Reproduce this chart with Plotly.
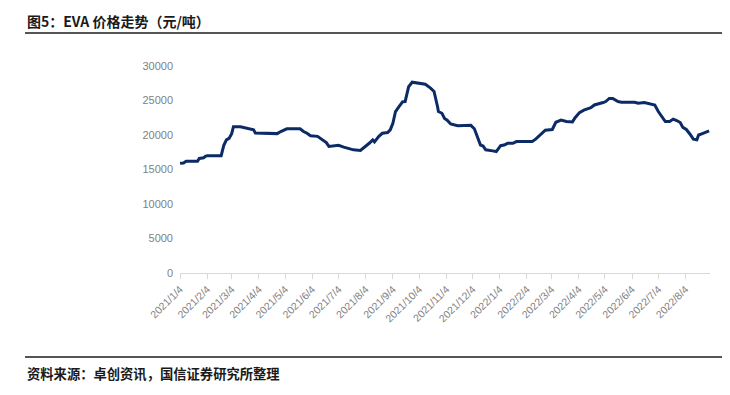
import plotly.graph_objects as go

dates = [
    "2021-01-04", "2021-01-08", "2021-01-11", "2021-01-24", "2021-01-26", "2021-01-31",
    "2021-02-02", "2021-02-04", "2021-02-20", "2021-02-23", "2021-02-26", "2021-03-01",
    "2021-03-04", "2021-03-06", "2021-03-14", "2021-03-20", "2021-03-25", "2021-03-29",
    "2021-03-31", "2021-04-21", "2021-04-25", "2021-04-29", "2021-05-03", "2021-05-06",
    "2021-05-21", "2021-05-25", "2021-05-29", "2021-06-02", "2021-06-10", "2021-06-14",
    "2021-06-20", "2021-06-23", "2021-06-29", "2021-07-04", "2021-07-10", "2021-07-16",
    "2021-07-21", "2021-07-29", "2021-08-04", "2021-08-08", "2021-08-12", "2021-08-14",
    "2021-08-19", "2021-08-23", "2021-08-29", "2021-09-01", "2021-09-04", "2021-09-07",
    "2021-09-11", "2021-09-15", "2021-09-18", "2021-09-22", "2021-09-26", "2021-10-02",
    "2021-10-05", "2021-10-11", "2021-10-17", "2021-10-21", "2021-10-25", "2021-10-26",
    "2021-10-30", "2021-11-02", "2021-11-05", "2021-11-09", "2021-11-17", "2021-12-02",
    "2021-12-06", "2021-12-09", "2021-12-13", "2021-12-16", "2021-12-19", "2021-12-27",
    "2021-12-31", "2022-01-05", "2022-01-09", "2022-01-13", "2022-01-19", "2022-01-23",
    "2022-02-10", "2022-02-14", "2022-02-19", "2022-02-25", "2022-03-05", "2022-03-09",
    "2022-03-15", "2022-03-21", "2022-03-28", "2022-03-31", "2022-04-05", "2022-04-10",
    "2022-04-18", "2022-04-22", "2022-05-02", "2022-05-05", "2022-05-09", "2022-05-13",
    "2022-05-19", "2022-05-23", "2022-06-07", "2022-06-11", "2022-06-18", "2022-06-26",
    "2022-06-30", "2022-07-04", "2022-07-08", "2022-07-12", "2022-07-17", "2022-07-21",
    "2022-07-25", "2022-07-29", "2022-08-01", "2022-08-05", "2022-08-09", "2022-08-13",
    "2022-08-17", "2022-08-19", "2022-08-24", "2022-08-28", "2022-08-31",
]
prices = [
    15900, 15950, 16200, 16200, 16600, 16700,
    16900, 17000, 17000, 18500, 19300, 19500,
    20200, 21200, 21200, 21050, 20900, 20750,
    20300, 20300, 20200, 20500, 20750, 20900,
    20900, 20500, 20250, 19900, 19800, 19400,
    18900, 18350, 18450, 18500, 18250, 18050,
    17850, 17750, 18300, 18800, 19300, 19000,
    19800, 20250, 20350, 20750, 21700, 23400,
    24100, 24800, 24850, 27000, 27650, 27550,
    27450, 27350, 26800, 26300, 24100, 23400,
    23150, 22400, 22150, 21600, 21350, 21400,
    20900, 19750, 18550, 18400, 17850, 17700,
    17600, 18450, 18550, 18800, 18800, 19050,
    19050, 19400, 20000, 20700, 20800, 21850,
    22150, 21950, 21900, 22500, 23250, 23600,
    23950, 24350, 24700, 24850, 25300, 25300,
    24850, 24750, 24750, 24600, 24700, 24500,
    24350, 23400, 22650, 21950, 21950, 22300,
    22100, 21800, 21100, 20800, 20150, 19400,
    19300, 20000, 20250, 20400, 20600,
]

tick_vals = [
    "2021-01-04", "2021-02-04", "2021-03-04", "2021-04-04", "2021-05-04", "2021-06-04",
    "2021-07-04", "2021-08-04", "2021-09-04", "2021-10-04", "2021-11-04", "2021-12-04",
    "2022-01-04", "2022-02-04", "2022-03-04", "2022-04-04", "2022-05-04", "2022-06-04",
    "2022-07-04", "2022-08-04",
]
tick_text = [
    "2021/1/4", "2021/2/4", "2021/3/4", "2021/4/4", "2021/5/4", "2021/6/4",
    "2021/7/4", "2021/8/4", "2021/9/4", "2021/10/4", "2021/11/4", "2021/12/4",
    "2022/1/4", "2022/2/4", "2022/3/4", "2022/4/4", "2022/5/4", "2022/6/4",
    "2022/7/4", "2022/8/4",
]
y_ticks = [0, 5000, 10000, 15000, 20000, 25000, 30000]
y_tick_text = ["0", "5000", "10000", "15000", "20000", "25000", "30000"]

title_text = "图5：EVA 价格走势（元/吨）"
source_text = "资料来源：卓创资讯，国信证券研究所整理"

fig = go.Figure()
fig.add_trace(go.Scatter(
    x=dates, y=prices, mode="lines",
    line=dict(color="#0b2a66", width=3),
    hoverinfo="skip", showlegend=False,
))

# The page body has an 8px margin; lay out in a 722x387 figure shifted by 8px.
OFF = 8
W, H = 730 - OFF, 395 - OFF
L, R, T, B = 180 - OFF, 20, 66 - OFF, 122
pw, ph = W - L - R, H - T - B

def px(x):
    return (x - OFF - L) / pw

def py(y):
    return (H - B - (y - OFF)) / ph

fig.update_layout(
    width=W, height=H,
    margin=dict(l=L, r=R, t=T, b=B, pad=0, autoexpand=False),
    paper_bgcolor="white", plot_bgcolor="white",
    font=dict(family="Liberation Sans, Arial, sans-serif", color="#595959", size=11),
    showlegend=False,
)
fig.update_xaxes(
    type="date", automargin=False,
    range=["2021-01-04", "2022-09-01"],
    tickmode="array", tickvals=tick_vals, ticktext=tick_text,
    tickangle=-45, tickfont=dict(size=10.5, color="#7f7f7f"),
    showgrid=False, zeroline=False,
    showline=True, linecolor="#d9d9d9", linewidth=1,
    ticks="outside", ticklen=5, tickcolor="#d9d9d9",
)
fig.update_yaxes(
    range=[0, 30000], tickmode="array", tickvals=y_ticks, ticktext=y_tick_text,
    automargin=False,
    tickfont=dict(size=11, color="#7f7f7f"),
    showgrid=False, zeroline=False, showline=False, ticks="",
    ticklabelstandoff=6,
)

# title and rules
fig.add_annotation(
    x=px(25), y=py(21), xref="paper", yref="paper",
    xanchor="left", yanchor="middle", showarrow=False,
    text="<b>" + title_text + "</b>",
    font=dict(family="Noto Sans CJK SC", size=14, color="#1a1a1a"),
)
fig.add_shape(type="line", xref="paper", yref="paper",
              x0=px(25), x1=px(730), y0=py(33), y1=py(33),
              line=dict(color="#555555", width=2))
fig.add_shape(type="line", xref="paper", yref="paper",
              x0=px(25), x1=px(730), y0=py(357), y1=py(357),
              line=dict(color="#555555", width=2))
fig.add_annotation(
    x=px(25), y=py(373), xref="paper", yref="paper",
    xanchor="left", yanchor="middle", showarrow=False,
    text="<b>" + source_text + "</b>",
    font=dict(family="Noto Sans CJK SC", size=13.3, color="#1a1a1a"),
)

fig.write_html("out.html")
